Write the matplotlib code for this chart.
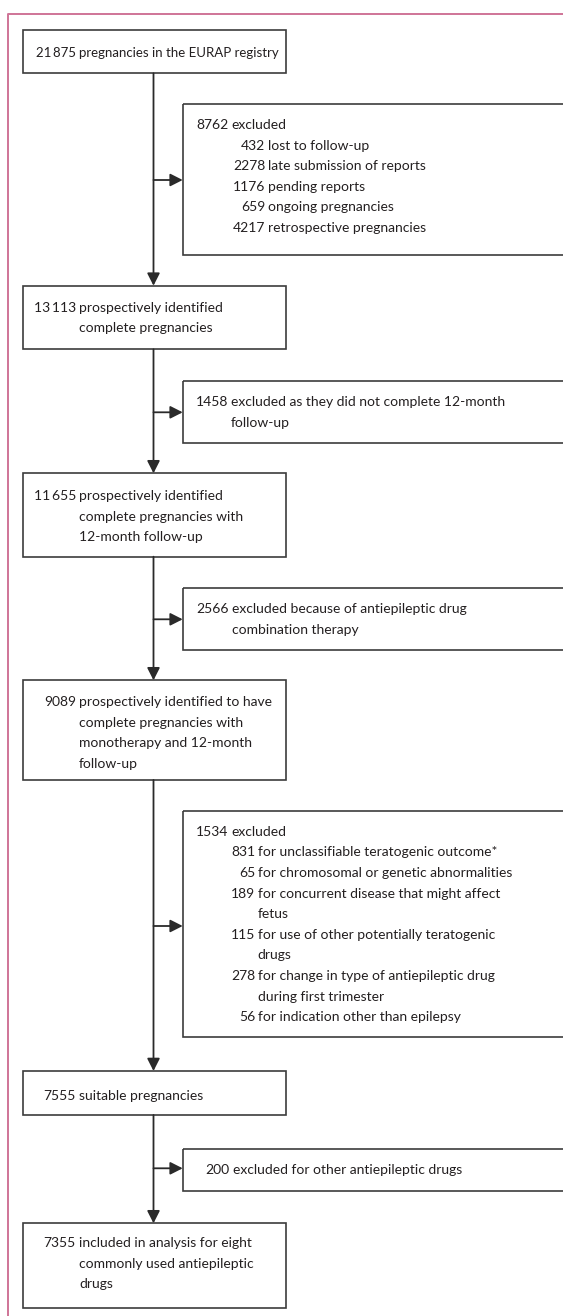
import matplotlib
matplotlib.use("Agg")
import matplotlib.pyplot as plt
from matplotlib.patches import Rectangle

plt.rcParams['font.family'] = ['Lato', 'DejaVu Sans']

# ---------------- data ----------------
main_counts = ["21\u2009875", "13\u2009113", "11\u2009655", "9089", "7555", "7355"]
main_labels = [
    ["pregnancies in the EURAP registry"],
    ["prospectively identified", "complete pregnancies"],
    ["prospectively identified", "complete pregnancies with", "12-month follow-up"],
    ["prospectively identified to have", "complete pregnancies with",
     "monotherapy and 12-month", "follow-up"],
    ["suitable pregnancies"],
    ["included in analysis for eight", "commonly used antiepileptic", "drugs"],
]
excl_counts = ["8762", "1458", "2566", "1534", "200"]
excl_labels = [
    ["excluded"],
    ["excluded as they did not complete 12-month", "follow-up"],
    ["excluded because of antiepileptic drug", "combination therapy"],
    ["excluded"],
    ["excluded for other antiepileptic drugs"],
]
sub1_counts = ["432", "2278", "1176", "659", "4217"]
sub1_labels = [["lost to follow-up"], ["late submission of reports"], ["pending reports"],
               ["ongoing pregnancies"], ["retrospective pregnancies"]]
sub4_counts = ["831", "65", "189", "115", "278", "56"]
sub4_labels = [["for unclassifiable teratogenic outcome*"],
               ["for chromosomal or genetic abnormalities"],
               ["for concurrent disease that might affect", "fetus"],
               ["for use of other potentially teratogenic", "drugs"],
               ["for change in type of antiepileptic drug", "during first trimester"],
               ["for indication other than epilepsy"]]

# ---------------- layout (pixels) ----------------
W, H = 563, 1316
fig = plt.figure(figsize=(W / 100, H / 100), dpi=100)
ax = fig.add_axes([0, 0, 1, 1])
ax.set_xlim(0, W)
ax.set_ylim(H, 0)
ax.axis('off')

TXT = '#231f20'
EDGE = '#3c3c3c'
PINK = '#cf7497'
FS = 10.0
LS = 20.6      # line spacing
BASE = 5.0     # centre -> baseline offset

# pink frame
ax.plot([7.5, 7.5, W + 5], [H + 5, 13.5, 13.5], color=PINK, lw=1.4, solid_capstyle='butt')

main_x = (22.7, 285.7)
main_y = [(30, 73.3), (285.7, 349.3), (473.3, 556.7), (680.3, 780), (1071, 1115), (1223.3, 1308.3)]
main_first = [52, 306.7, 495, 701, 1095, 1242.3]
main_fs = [9.5, FS, FS, FS, FS, FS]
main_numr = 76.0
main_txtx = 79.0

excl_x0 = 182.7
excl_y = [(104, 255), (380.7, 442.7), (587.7, 650), (810.7, 1037.3), (1149.3, 1191)]
excl_first = [124, 401, 608.3, 830.7, 1169.3]
excl_numr = [228.5, 228.5, 228.5, 228.0, 229.3]
excl_txtx = [231.5, 231.0, 232.0, 231.0, 233.0]
arrow_y = [180, 412.3, 619.3, 926, 1168.3]
vx = 153.5


def hang(numstr, lines, y0, numr, tx, fs=FS):
    ax.text(numr, y0 + BASE, numstr, ha='right', va='baseline', fontsize=fs, color=TXT)
    for i, ln in enumerate(lines):
        ax.text(tx, y0 + BASE + i * LS, ln, ha='left', va='baseline', fontsize=fs, color=TXT)
    return y0 + len(lines) * LS


for i in range(len(main_counts)):
    y0, y1 = main_y[i]
    ax.add_patch(Rectangle((main_x[0], y0), main_x[1] - main_x[0], y1 - y0,
                           fill=False, ec=EDGE, lw=1.2))
    hang(main_counts[i], main_labels[i], main_first[i], main_numr, main_txtx, main_fs[i])

for i in range(len(excl_counts)):
    y0, y1 = excl_y[i]
    ax.add_patch(Rectangle((excl_x0, y0), W + 20 - excl_x0, y1 - y0,
                           fill=False, ec=EDGE, lw=1.2, clip_on=True))
    y = hang(excl_counts[i], excl_labels[i], excl_first[i], excl_numr[i], excl_txtx[i])
    if i == 0:
        for c, l in zip(sub1_counts, sub1_labels):
            y = hang(c, l, y, 265.5, 268.5)
    if i == 3:
        for c, l in zip(sub4_counts, sub4_labels):
            y = hang(c, l, y, 255.0, 257.5)

AP = dict(arrowstyle='-|>,head_length=7.5,head_width=3.8', mutation_scale=1,
          color='#2a2a2a', lw=1.3, shrinkA=0, shrinkB=0)
# vertical arrows
for i in range(len(main_y) - 1):
    ax.annotate('', xy=(vx, main_y[i + 1][0]), xytext=(vx, main_y[i][1]), arrowprops=AP)
# horizontal arrows
for ya in arrow_y:
    ax.annotate('', xy=(excl_x0, ya), xytext=(vx, ya), arrowprops=AP)

fig.savefig('out.png', dpi=100)
